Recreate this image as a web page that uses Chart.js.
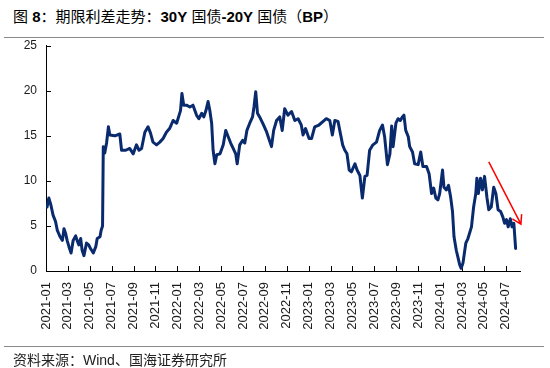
<!DOCTYPE html>
<html>
<head>
<meta charset="utf-8">
<script src="https://cdn.jsdelivr.net/npm/chart.js@4/dist/chart.umd.min.js"></script>
<style>
  body { margin: 0; background: #fff; }
  #wrap { position: relative; width: 550px; height: 368px; font-family: "Liberation Sans", "Noto Sans CJK SC", sans-serif; }
  #title { position: absolute; left: 13px; top: 7px; font-size: 15px; line-height: 20px; color: #000; white-space: nowrap; }
  #source { position: absolute; left: 13px; top: 350px; font-size: 14px; line-height: 20px; color: #222; white-space: nowrap; }
  .rule { position: absolute; left: 4px; width: 540px; height: 1px; background: #8a8a8a; }
  canvas { position: absolute; left: 0; top: 0; }
</style>
</head>
<body>
<div id="wrap">
  <div id="title">图 <b>8</b>：期限利差走势：<b>30Y</b> 国债<b>-20Y</b> 国债（<b>BP</b>）</div>
  <div class="rule" style="top:37px"></div>
  <canvas id="spreadChart" width="550" height="368"></canvas>
  <div class="rule" style="top:346px"></div>
  <div id="source">资料来源：Wind、国海证券研究所</div>
</div>
<script>
// 30Y - 20Y 国债利差 (BP), 读图估计
const dates2021 = ['2021-01-04','2021-01-09','2021-01-15','2021-01-21','2021-01-28','2021-02-02','2021-02-09','2021-02-15','2021-02-19','2021-02-23',
  '2021-02-27','2021-03-04','2021-03-10','2021-03-16','2021-03-23','2021-03-27','2021-04-01','2021-04-06','2021-04-10','2021-04-15',
  '2021-04-22','2021-04-28','2021-05-03','2021-05-11','2021-05-18','2021-05-22','2021-05-30','2021-06-02','2021-06-06','2021-06-08',
  '2021-06-12','2021-06-17','2021-06-22','2021-06-26','2021-07-10','2021-07-24','2021-07-29','2021-08-10','2021-08-21','2021-08-31',
  '2021-09-09','2021-09-16','2021-09-23','2021-10-02','2021-10-11','2021-10-18','2021-10-25','2021-11-04','2021-11-13','2021-11-22',
  '2021-12-01','2021-12-10','2021-12-20','2021-12-30'];
const spread2021 = [7.1, 8.1, 7.3, 6.2, 5.5, 4.5, 3.8, 3.4, 4.7, 4.2,
  3.4, 2.7, 2.0, 3.4, 3.9, 3.4, 2.9, 3.6, 2.3, 1.7,
  3.1, 2.9, 2.5, 2.0, 2.7, 3.6, 3.8, 4.5, 5.0, 13.8,
  13.1, 14.2, 16.0, 15.1, 15.0, 15.2, 13.4, 13.4, 13.6, 13.0,
  14.0, 13.4, 13.6, 15.4, 16.0, 15.3, 14.3, 14.0, 14.3, 14.7,
  15.4, 15.8, 16.7, 16.4];

const dates2022 = ['2022-01-06','2022-01-10','2022-01-14','2022-01-19','2022-01-27','2022-02-05','2022-02-13','2022-02-22','2022-02-28','2022-03-08',
  '2022-03-14','2022-03-20','2022-03-26','2022-03-31','2022-04-05','2022-04-09','2022-04-14','2022-04-19','2022-04-28','2022-05-07',
  '2022-05-14','2022-05-21','2022-05-28','2022-06-04','2022-06-11','2022-06-15','2022-06-22','2022-06-30','2022-07-06','2022-07-12',
  '2022-07-20','2022-07-28','2022-08-01','2022-08-06','2022-08-11','2022-08-17','2022-08-27','2022-09-05','2022-09-10','2022-09-19',
  '2022-09-25','2022-10-03','2022-10-12','2022-10-19','2022-10-26','2022-11-04','2022-11-14','2022-11-23','2022-12-02','2022-12-11',
  '2022-12-16','2022-12-23'];
const spread2022 = [17.3, 17.8, 19.7, 18.4, 18.4, 18.2, 18.4, 17.3, 16.9, 17.5,
  17.1, 17.8, 18.8, 17.8, 16.4, 13.4, 11.9, 12.9, 13.0, 14.0,
  15.6, 14.9, 14.2, 13.6, 13.0, 11.9, 14.0, 14.5, 14.2, 15.6,
  16.4, 17.1, 18.2, 19.9, 17.5, 17.1, 16.3, 15.5, 14.9, 13.8,
  15.6, 16.7, 17.1, 15.6, 18.0, 17.3, 17.7, 16.7, 16.9, 16.2,
  15.1, 15.8];

const dates2023 = ['2023-01-02','2023-01-09','2023-01-18','2023-01-30','2023-02-10','2023-02-18','2023-02-27','2023-03-06','2023-03-13','2023-03-22',
  '2023-03-27','2023-04-04','2023-04-10','2023-04-16','2023-04-22','2023-04-28','2023-05-08','2023-05-14','2023-05-22','2023-05-29',
  '2023-06-05','2023-06-11','2023-06-18','2023-06-27','2023-07-07','2023-07-16','2023-07-24','2023-07-30','2023-08-07','2023-08-14',
  '2023-08-19','2023-08-23','2023-08-31','2023-09-06','2023-09-12','2023-09-18','2023-09-22','2023-09-27','2023-10-04','2023-10-08',
  '2023-10-16','2023-10-22','2023-11-01','2023-11-08','2023-11-14','2023-11-24','2023-12-01','2023-12-08','2023-12-14','2023-12-20',
  '2023-12-26','2023-12-31'];
const spread2023 = [14.7, 14.7, 16.0, 16.2, 16.6, 16.9, 16.7, 15.1, 16.7, 16.6,
  15.6, 14.0, 13.4, 13.0, 11.2, 11.0, 11.9, 11.2, 10.6, 8.1,
  10.5, 10.6, 13.4, 14.0, 14.3, 15.6, 16.2, 14.9, 11.8, 13.0,
  16.1, 13.8, 16.4, 16.9, 16.7, 17.1, 17.3, 15.6, 14.9, 13.8,
  13.2, 11.9, 11.8, 13.2, 11.6, 11.6, 10.8, 8.6, 9.2, 8.1,
  7.9, 8.6];

const dates2024 = ['2024-01-08','2024-01-12','2024-01-19','2024-01-25','2024-01-31','2024-02-05','2024-02-09','2024-02-15','2024-02-19','2024-02-24',
  '2024-02-28','2024-03-04','2024-03-12','2024-03-18','2024-03-28','2024-04-03','2024-04-09','2024-04-12','2024-04-16','2024-04-22',
  '2024-04-27','2024-05-03','2024-05-10','2024-05-15','2024-05-22','2024-05-29','2024-06-04','2024-06-10','2024-06-17','2024-06-23',
  '2024-06-28','2024-07-03','2024-07-08','2024-07-14','2024-07-19','2024-07-24','2024-07-29'];
const spread2024 = [11.2, 9.3, 9.0, 9.5, 8.2, 6.6, 3.8, 2.3, 1.6, 0.7,
  0.3, 0.9, 3.1, 3.6, 4.9, 7.1, 8.6, 10.3, 8.6, 10.3,
  9.0, 10.5, 8.1, 6.8, 7.1, 9.3, 8.6, 6.8, 6.6, 6.0,
  5.3, 5.7, 4.9, 5.8, 4.9, 5.3, 2.5];

const xTickLabels = ['2021-01','2021-03','2021-05','2021-07','2021-09','2021-11','2022-01','2022-03','2022-05','2022-07','2022-09',
  '2022-11','2023-01','2023-03','2023-05','2023-07','2023-09','2023-11','2024-01','2024-03','2024-05','2024-07'];
const yTicks = [0, 5, 10, 15, 20, 25];

// 红色趋势箭头 (起点、终点)
const arrowFrom = ['2024-05-15', 12.1];
const arrowTo = ['2024-08-13', 5.2];

const lineColor = '#0a2a6e';
const axisFont = '"Liberation Sans", Arial, sans-serif';

// 日期 -> 自 2021-01 起的月份序号
function monthIndex(s) {
    const [y, m, d] = s.split('-').map(Number);
    const days = new Date(y, m, 0).getDate();
    return (y - 2021) * 12 + (m - 1) + (d - 1) / days;
}

const dates = [].concat(dates2021, dates2022, dates2023, dates2024);
const spread = [].concat(spread2021, spread2022, spread2023, spread2024);
const points = dates.map((d, i) => ({ x: monthIndex(d), y: spread[i] }));

// 刻度线朝内
const inwardTicks = {
    id: 'inwardTicks',
    beforeDatasetsDraw(chart) {
        const { ctx, chartArea: a, scales: { x, y } } = chart;
        ctx.save();
        ctx.strokeStyle = '#000';
        ctx.lineWidth = 1;
        ctx.beginPath();
        x.ticks.forEach(t => {
            const px = Math.round(x.getPixelForValue(t.value)) + 0.5;
            ctx.moveTo(px, a.bottom);
            ctx.lineTo(px, a.bottom - 5);
        });
        y.ticks.forEach(t => {
            const py = Math.round(y.getPixelForValue(t.value)) + 0.5;
            ctx.moveTo(a.left, py);
            ctx.lineTo(a.left + 5, py);
        });
        ctx.stroke();
        ctx.restore();
    }
};

const trendArrow = {
    id: 'trendArrow',
    afterDatasetsDraw(chart) {
        const { ctx, scales: { x, y } } = chart;
        const x1 = x.getPixelForValue(monthIndex(arrowFrom[0])), y1 = y.getPixelForValue(arrowFrom[1]);
        const x2 = x.getPixelForValue(monthIndex(arrowTo[0])), y2 = y.getPixelForValue(arrowTo[1]);
        const ang = Math.atan2(y2 - y1, x2 - x1);
        const len = 10, spread = 0.55;
        ctx.save();
        ctx.strokeStyle = '#ff0000';
        ctx.lineWidth = 1.5;
        ctx.beginPath();
        ctx.moveTo(x1, y1);
        ctx.lineTo(x2, y2);
        ctx.moveTo(x2 - len * Math.cos(ang - spread), y2 - len * Math.sin(ang - spread));
        ctx.lineTo(x2, y2);
        ctx.lineTo(x2 - len * Math.cos(ang + spread), y2 - len * Math.sin(ang + spread));
        ctx.stroke();
        ctx.restore();
    }
};

new Chart(document.getElementById('spreadChart'), {
    type: 'line',
    data: {
        datasets: [{
            data: points,
            borderColor: lineColor,
            borderWidth: 3,
            pointRadius: 0,
            tension: 0,
            borderJoinStyle: 'round',
            borderCapStyle: 'round'
        }]
    },
    options: {
        responsive: false,
        animation: false,
        devicePixelRatio: 1,
        layout: { padding: { left: 0, right: 29.5, top: 45.7, bottom: 0 } },
        plugins: {
            legend: { display: false },
            tooltip: { enabled: false }
        },
        scales: {
            x: {
                type: 'linear',
                min: 0,
                max: 43.35,
                afterFit: s => { s.height = 97; },
                afterBuildTicks: s => { s.ticks = xTickLabels.map(l => ({ value: monthIndex(l + '-01') })); },
                grid: { display: false, drawTicks: false },
                border: { display: true, color: '#000', width: 1 },
                ticks: {
                    autoSkip: false,
                    maxRotation: 90,
                    minRotation: 90,
                    padding: 11,
                    color: '#1a1a1a',
                    font: { size: 13, family: axisFont },
                    callback: (v, i) => xTickLabels[i]
                }
            },
            y: {
                min: 0,
                max: 25,
                afterFit: s => { s.width = 46; },
                afterBuildTicks: s => { s.ticks = yTicks.map(v => ({ value: v })); },
                grid: { display: false, drawTicks: false },
                border: { display: true, color: '#000', width: 1 },
                ticks: {
                    padding: 9,
                    color: '#1a1a1a',
                    font: { size: 12, family: axisFont }
                }
            }
        }
    },
    plugins: [inwardTicks, trendArrow]
});
</script>
</body>
</html>
